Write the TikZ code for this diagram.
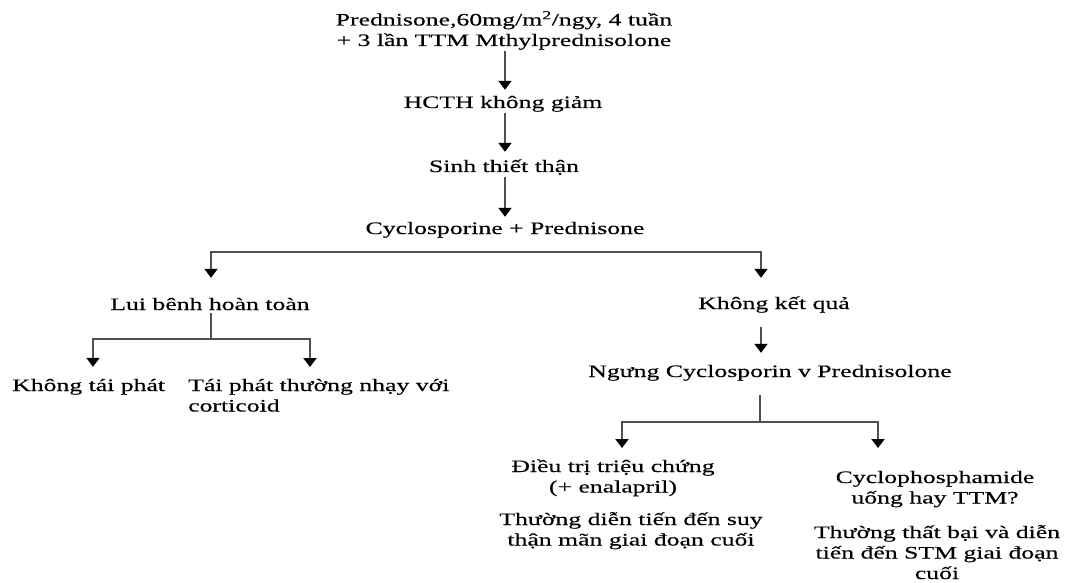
\documentclass[tikz,border=0pt]{standalone}
\usepackage{fontspec}
\setmainfont{Liberation Serif}[FakeStretch=1.47, FakeBold=0.3]
\usetikzlibrary{arrows.meta,calc}
\definecolor{linegray}{HTML}{505050}

\begin{document}
\begin{tikzpicture}[x=1pt,y=-1pt,
  every node/.style={inner sep=0pt, font=\fontsize{17.5}{20.5}\selectfont},
  lbl/.style={anchor=base, text height=12pt, text depth=4pt},
  % multi-line blocks: the base anchor sits on the last line
  blk/.style={anchor=base, align=center},
  link/.style={draw=linegray, line width=2pt},
  arr/.style={link, -{Triangle[width=13pt,length=9pt,color=black]}}
]
\useasboundingbox (0,0) rectangle (1069,583);

% main column
\node[blk] (top) at (504,46) {Prednisone,60mg/m\textsuperscript{2}/ngy, 4 tuần\\+ 3 lần TTM Mthylprednisolone};
\node[lbl] (hcth) at (503,108) {HCTH không giảm};
\node[lbl] (sinh) at (504,172) {Sinh thiết thận};
\node[lbl] (cyclo) at (505,234) {Cyclosporine + Prednisone};

% first split
\node[lbl] (lui) at (210,310) {Lui bênh hoàn toàn};
\node[lbl] (kq) at (774,309) {Không kết quả};
\node[lbl] (ngung) at (770,377) {Ngưng Cyclosporin v Prednisolone};

% outcomes of remission
\node[lbl, anchor=base west] (khongtai) at (12,391) {Không tái phát};
\node[blk, anchor=base west, align=left] (taiphat) at (188,411.5) {Tái phát thường nhạy với\\corticoid};

% options after stopping
\node[blk] (dieutri) at (613,492.5) {Điều trị triệu chứng\\(+ enalapril)};
\node[blk] (dienbien) at (631,545.5) {Thường diễn tiến đến suy\\thận mãn giai đoạn cuối};
\node[blk] (cyclophos) at (935,503.5) {Cyclophosphamide\\uống hay TTM?};
\node[blk] (thatbai) at (937,579) {Thường thất bại và diễn\\tiến đến STM giai đoạn\\cuối};

% connectors of the main column
\draw[arr] ($(top.south -| cyclo)+(0,1)$) -- ($(hcth.north -| cyclo)+(0,-6)$);
\draw[arr] ($(hcth.south -| cyclo)+(0,1)$) -- ($(sinh.north -| cyclo)+(0,-8)$);
\draw[arr] ($(sinh.south -| cyclo)+(0,1)$) -- ($(cyclo.north)+(0,-5)$);

% split below the combined therapy
\coordinate (j1) at ($(cyclo.south)+(0,14)$);
\draw[arr] (j1) -| ($(lui.north)+(1,-20)$);
\draw[arr] (j1) -| ($(kq.north)+(-13,-19)$);

% split below complete remission
\coordinate (j2) at ($(lui.south)+(1,25)$);
\draw[link] ($(lui.south)+(1,-1)$) -- (j2);
\draw[arr] (j2) -| ($(khongtai.north west)+(81,-12)$);
\draw[arr] (j2) -| ($(taiphat.base west)+(122,-44.5)$);

% no response branch
\draw[arr] ($(kq.south)+(-13,14)$) -- ($(ngung.north -| kq.south)+(-13,-12)$);
\coordinate (j3) at ($(ngung.south)+(-10,41)$);
\draw[link] ($(ngung.south)+(-10,14)$) -- (j3);
\draw[arr] (j3) -| ($(dieutri.base)+(9,-44.5)$);
\draw[arr] (j3) -| ($(cyclophos.base)+(-57,-55.5)$);
\end{tikzpicture}
\end{document}
